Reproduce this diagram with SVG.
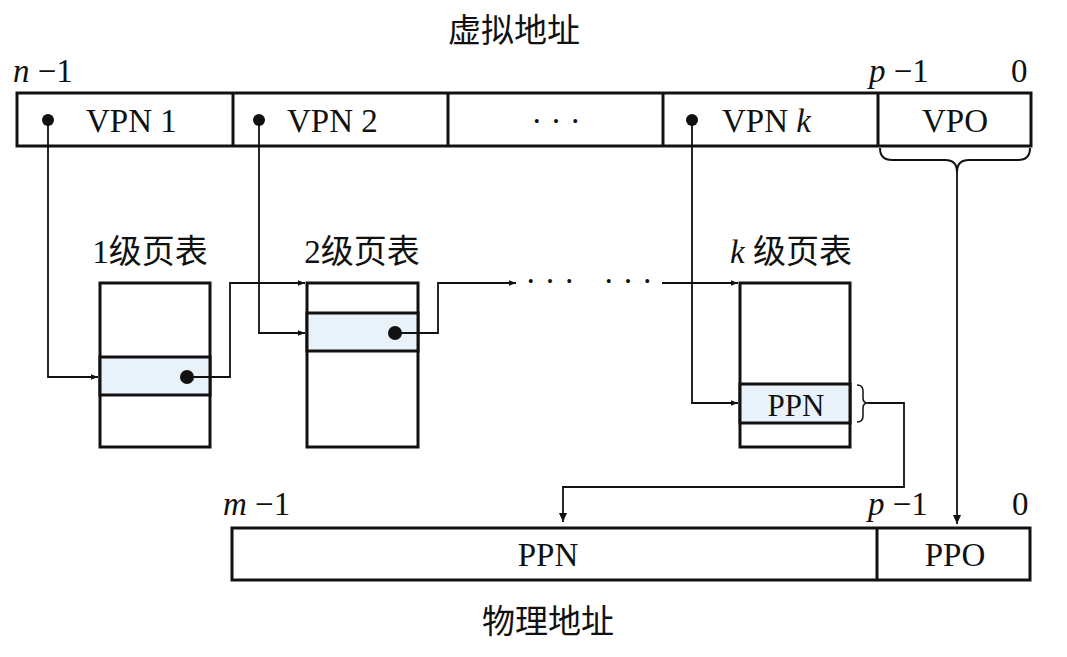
<svg xmlns="http://www.w3.org/2000/svg" width="1067" height="657" viewBox="0 0 1067 657">
<defs>
<style>
.t{font-family:"Liberation Serif","Noto Sans CJK SC",serif;font-size:33px;fill:#111}
.c{text-anchor:middle}
.box{fill:#fff;stroke:#111;stroke-width:3}
.hl{fill:#e9f1f9;stroke:#111;stroke-width:3}
.ln{fill:none;stroke:#111;stroke-width:2}
.conn{fill:none;stroke:#111;stroke-width:1.8;marker-end:url(#ah)}
.dot{fill:#111}
</style>
<marker id="ah" viewBox="0 0 10 10" refX="10" refY="5" markerWidth="7" markerHeight="7" markerUnits="userSpaceOnUse" orient="auto"><path d="M0,1 L10,5 L0,9 z" fill="#111"/></marker>
<marker id="ah2" viewBox="0 0 10 10" refX="10" refY="5" markerWidth="12" markerHeight="9" markerUnits="userSpaceOnUse" orient="auto"><path d="M0,0.5 L10,5 L0,9.5 z" fill="#111"/></marker>
</defs>
<rect width="1067" height="657" fill="#fff"/>

<g id="virtual-address">
<text class="t c" x="514" y="42">虚拟地址</text>
<text class="t" x="13" y="82"><tspan font-style="italic">n</tspan> −1</text>
<text class="t" x="869" y="82"><tspan font-style="italic">p</tspan> −1</text>
<text class="t" x="1011" y="82">0</text>
<rect class="box" x="17" y="93" width="1014" height="53"/>
<line class="ln" x1="233" y1="93" x2="233" y2="146" style="stroke-width:3"/>
<line class="ln" x1="448" y1="93" x2="448" y2="146" style="stroke-width:3"/>
<line class="ln" x1="663" y1="93" x2="663" y2="146" style="stroke-width:3"/>
<line class="ln" x1="878" y1="93" x2="878" y2="146" style="stroke-width:3"/>
<circle class="dot" cx="48" cy="120" r="6"/>
<text class="t" x="86" y="132">VPN 1</text>
<circle class="dot" cx="259" cy="120" r="6"/>
<text class="t" x="287" y="132">VPN 2</text>
<text class="t c" x="556" y="132">· · ·</text>
<circle class="dot" cx="692" cy="120" r="6"/>
<text class="t" x="722" y="132">VPN <tspan font-style="italic">k</tspan></text>
<text class="t c" x="955" y="132">VPO</text>
<path class="ln" d="M880,148 Q880,160 892,160 L945,160 Q957,160 957,172 Q957,160 969,160 L1018,160 Q1030,160 1030,148"/>
</g>

<g id="table-1">
<text class="t c" x="150" y="263">1级页表</text>
<rect class="box" x="100" y="283" width="110" height="164"/>
<rect class="hl" x="100" y="357" width="110" height="38"/>
<circle class="dot" cx="187" cy="377" r="7"/>
</g>

<g id="table-2">
<text class="t c" x="362" y="263">2级页表</text>
<rect class="box" x="307" y="283" width="111" height="164"/>
<rect class="hl" x="307" y="313" width="111" height="38"/>
<circle class="dot" cx="395" cy="333" r="7"/>
</g>

<g id="dots-mid">
<text class="t c" x="550" y="292">· · ·</text>
<text class="t c" x="628" y="292">· · ·</text>
</g>

<g id="table-k">
<text class="t c" x="791" y="263"><tspan font-style="italic">k</tspan> 级页表</text>
<rect class="box" x="740" y="283" width="110" height="164"/>
<rect class="hl" x="740" y="384" width="110" height="39"/>
<text class="t c" x="796" y="416" style="font-size:31px">PPN</text>
<path class="ln" style="stroke-width:1.5" d="M857,385 Q863,385 863,391 L863,398 Q863,403 868,403 Q863,403 863,408 L863,416 Q863,422 857,422"/>
</g>

<g id="physical-address">
<text class="t" x="223" y="515"><tspan font-style="italic">m</tspan> −1</text>
<text class="t" x="868" y="515"><tspan font-style="italic">p</tspan> −1</text>
<text class="t" x="1012" y="515">0</text>
<rect class="box" x="232" y="528" width="798" height="52"/>
<line class="ln" x1="877" y1="528" x2="877" y2="580" style="stroke-width:3"/>
<text class="t c" x="548" y="566">PPN</text>
<text class="t c" x="955" y="566">PPO</text>
<text class="t c" x="548" y="633">物理地址</text>
</g>

<g id="connectors">
<path class="conn" d="M48,120 L48,377 L98,377"/>
<path class="conn" d="M187,377 L230,377 L230,283 L305,283"/>
<path class="conn" d="M259,120 L259,333 L305,333"/>
<path class="conn" d="M395,333 L438,333 L438,283 L516,283"/>
<path class="conn" d="M662,283 L738,283"/>
<path class="conn" d="M692,120 L692,403 L738,403"/>
<path class="conn" style="marker-end:url(#ah2)" d="M868,403 L904,403 L904,487 L563,487 L563,522"/>
<path class="conn" style="marker-end:url(#ah2)" d="M957,172 L957,524"/>
</g>
</svg>
